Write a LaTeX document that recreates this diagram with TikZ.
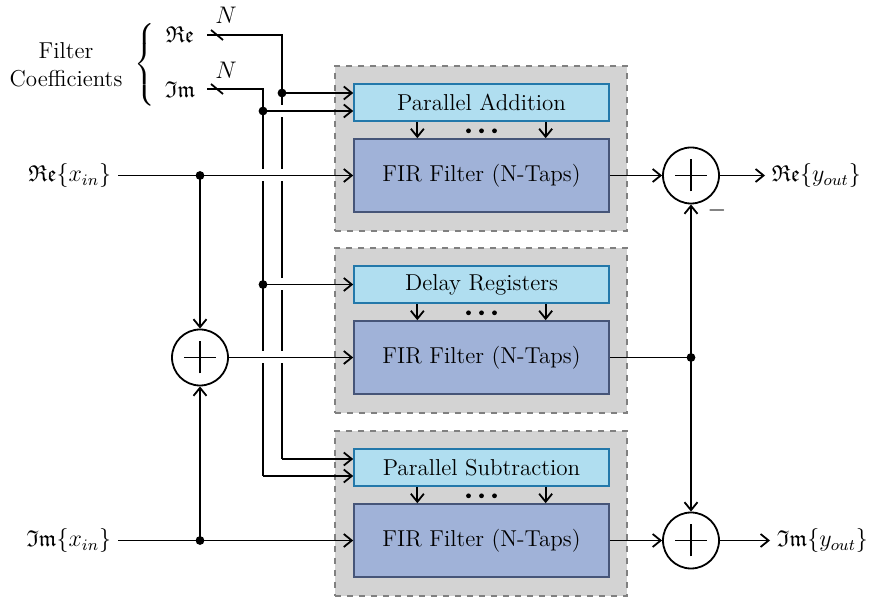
\documentclass[tikz,border=0pt]{standalone}
\usepackage{amssymb}
\usetikzlibrary{arrows.meta,calc}

\definecolor{groupfill}{RGB}{211,211,211}
\definecolor{groupline}{RGB}{128,128,128}
\definecolor{ctrlfill}{RGB}{176,222,240}
\definecolor{ctrlline}{RGB}{35,120,170}
\definecolor{firfill}{RGB}{160,178,216}
\definecolor{firline}{RGB}{70,85,120}

\tikzset{
  group/.style={draw=groupline, dashed, fill=groupfill, line width=0.8pt,
    minimum width=146pt, minimum height=82.5pt, inner sep=0pt},
  ctrlbox/.style={draw=ctrlline, fill=ctrlfill, line width=0.8pt,
    minimum width=127.5pt, minimum height=18.5pt, inner sep=0pt},
  firbox/.style={draw=firline, fill=firfill, line width=0.8pt,
    minimum width=127.5pt, minimum height=36.5pt, inner sep=0pt},
  sum/.style={circle, draw, line width=0.9pt, minimum size=28pt, inner sep=0pt,
    path picture={\draw[line width=0.9pt]
      ([xshift=-8pt]path picture bounding box.center) -- ([xshift=8pt]path picture bounding box.center)
      ([yshift=-8pt]path picture bounding box.center) -- ([yshift=8pt]path picture bounding box.center);}},
  junction/.style={circle, fill, inner sep=0pt, minimum size=4.4pt},
  tapdot/.style={circle, fill, inner sep=0pt, minimum size=2.4pt},
  bridge/.style={fill=white, inner sep=0pt, minimum width=4pt, minimum height=6pt},
  lbl/.style={inner sep=3pt},
}

\begin{document}
\begin{tikzpicture}[x=0.5pt, y=-0.5pt, font=\fontsize{11.5}{14}\selectfont,
  >={Straight Barb[length=4pt,width=6.5pt]}, line width=0.9pt]
\useasboundingbox (0,0) rectangle (872,597);

% three processing groups
\node[group] (g1) at (481,148.5) {};
\node[group] (g2) at (481,330.5) {};
\node[group] (g3) at (481,513.5) {};

\node[ctrlbox] (pa) at (481.5,102.5) {Parallel Addition};
\node[firbox]  (f1) at (481.5,175.5) {FIR Filter (N-Taps)};
\node[ctrlbox] (dr) at (481.5,284.5) {Delay Registers};
\node[firbox]  (f2) at (481.5,357.5) {FIR Filter (N-Taps)};
\node[ctrlbox] (ps) at (481.5,467.5) {Parallel Subtraction};
\node[firbox]  (f3) at (481.5,540.5) {FIR Filter (N-Taps)};

% coefficient taps from the control blocks into the filters
\foreach \c/\f in {pa/f1, dr/f2, ps/f3}{
  \draw[->] ($(\c.south west)!0.25!(\c.south east)$) -- ($(\f.north west)!0.25!(\f.north east)$);
  \draw[->] ($(\c.south west)!0.75!(\c.south east)$) -- ($(\f.north west)!0.75!(\f.north east)$);
  \coordinate (mid) at ($(\c.south)!0.55!(\f.north)$);
  \foreach \dx in {-13,0,13} \node[tapdot] at ($(mid)+(\dx,0)$) {};
}

% coefficient inputs
\node (coef) at (66,65) [align=center, inner sep=0pt] {Filter\\Coefficients};
\node (brace) at (146,65) [inner sep=0pt] {$\left\{\rule[-18pt]{0pt}{36pt}\right.$};
\node (recoef) at (180,35) [lbl, anchor=center] {$\mathfrak{Re}$};
\node (imcoef) at (180,90) [lbl, anchor=center] {$\mathfrak{Im}$};
\node (nre) at (226,15) {$N$};
\node (nim) at (226,70) {$N$};

\coordinate (reS) at (207,35);
\coordinate (imS) at (207,89);
\coordinate (reC) at (282,35);
\coordinate (imC) at (263,89);
\coordinate (reB) at (282,459);
\coordinate (imB) at (263,476);

% bus slashes
\draw ($(reS)+(4,-5)$) -- ($(reS)+(16,5)$);
\draw ($(imS)+(4,-5)$) -- ($(imS)+(16,5)$);

% coefficient buses
\draw (reS) -- (reC) -- (reB);
\draw (imS) -- (imC) -- (imB);

% signal inputs
\node[lbl, anchor=east] (rein) at (118,175.5) {$\mathfrak{Re}\{x_{in}\}$};
\node[lbl, anchor=east] (imin) at (118,540.5) {$\mathfrak{Im}\{x_{in}\}$};
\node[sum] (s1) at (200,357.5) {};
\coordinate (jre) at (200,175.5);
\coordinate (jim) at (200,540.5);

% crossings: verticals are broken where horizontals pass
\foreach \y in {111,175.5,284.5,357.5} \node[bridge] at (282,\y) {};
\foreach \y in {175.5,357.5} \node[bridge] at (263,\y) {};

% branches from the coefficient buses
\coordinate (ja) at (282,93);
\coordinate (jb) at (263,111);
\coordinate (jc) at (263,284.5);
\draw[->] (ja) -- (pa.west |- ja);
\draw[->] (jb) -- (pa.west |- jb);
\draw[->] (jc) -- (dr.west);
\draw[->] (reB) -- (ps.west |- reB);
\draw[->] (imB) -- (ps.west |- imB);

\draw[->] (rein) -- (f1);
\draw[->] (imin) -- (f3);
\draw[->] (jre) -- (s1);
\draw[->] (jim) -- (s1);
\draw[->] (s1) -- (f2);

% outputs
\node[sum] (s2) at (691,175.5) {};
\node[sum] (s3) at (691,540.5) {};
\coordinate (jout) at (691,357.5);
\draw[->] (f1) -- (s2);
\draw[->] (f3) -- (s3);
\draw (f2) -- (jout);
\draw[->] (jout) -- (s2);
\draw[->] (jout) -- (s3);
\node at (717,211) {$-$};

\node[lbl, anchor=west] (reout) at (765,175.5) {$\mathfrak{Re}\{y_{out}\}$};
\node[lbl, anchor=west] (imout) at (770,540.5) {$\mathfrak{Im}\{y_{out}\}$};
\draw[->] (s2) -- (reout);
\draw[->] (s3) -- (imout);

% junction dots
\foreach \p in {ja,jb,jc,jre,jim,jout} \node[junction] at (\p) {};
\end{tikzpicture}
\end{document}
